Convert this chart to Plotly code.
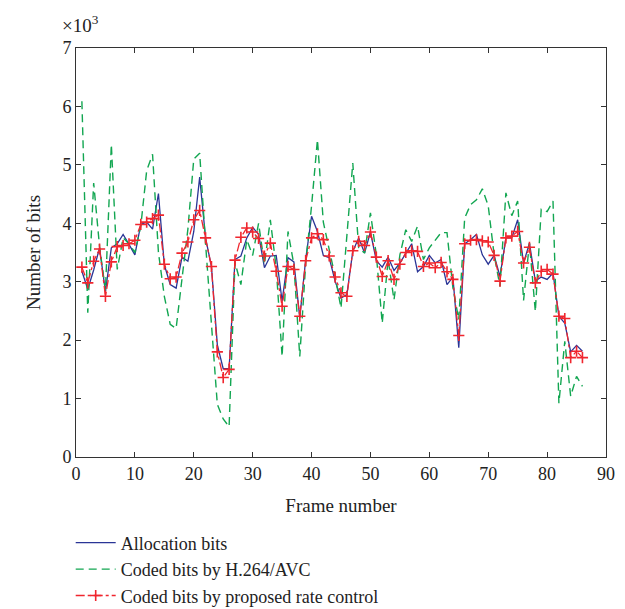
"""Allocation bits vs coded bits per frame (H.264/AVC vs proposed rate control)."""

import plotly.graph_objects as go

frames = list(range(1, 87))

# values in units of 10^3 bits
allocation_bits = [
    3.18, 2.87, 3.20, 3.58, 2.83, 3.58, 3.65, 3.81, 3.64, 3.46,
    3.98, 4.02, 3.90, 4.51, 3.29, 2.95, 2.89, 3.42, 3.35, 3.86,
    4.79, 3.75, 3.26, 1.92, 1.51, 1.51, 3.38, 3.44, 3.75, 3.93,
    3.81, 3.24, 3.44, 3.45, 2.67, 3.41, 3.34, 2.38, 3.38, 4.12,
    3.86, 3.45, 3.41, 3.01, 2.72, 2.78, 3.52, 3.75, 3.49, 3.85,
    3.36, 3.25, 3.42, 3.19, 3.32, 3.49, 3.65, 3.17, 3.26, 3.45,
    3.32, 3.38, 2.95, 3.08, 1.87, 3.65, 3.72, 3.81, 3.46, 3.30,
    3.45, 3.09, 3.75, 3.75, 4.06, 3.32, 3.66, 3.01, 3.08, 3.04,
    3.15, 2.41, 2.29, 1.80, 1.91, 1.81,
]
h264_bits = [
    6.09, 2.47, 4.69, 3.60, 2.85, 5.35, 3.21, 3.75, 3.65, 3.50,
    3.95, 4.90, 5.18, 3.50, 2.75, 2.27, 2.20, 3.00, 3.90, 5.10,
    5.20, 3.65, 2.30, 0.90, 0.65, 0.52, 3.33, 2.95, 3.72, 3.45,
    4.00, 3.30, 4.06, 3.24, 1.72, 3.86, 3.29, 1.72, 3.30, 4.30,
    5.43, 4.02, 3.55, 3.09, 2.55, 3.80, 5.03, 3.58, 3.49, 4.18,
    3.46, 2.29, 3.38, 2.69, 3.46, 3.89, 3.69, 3.95, 3.38, 3.58,
    3.72, 3.84, 3.84, 2.90, 2.35, 4.09, 4.32, 4.40, 4.59, 4.30,
    3.46, 2.92, 4.52, 4.13, 4.38, 2.68, 3.66, 2.49, 4.24, 4.20,
    4.38, 0.92, 1.98, 1.04, 1.38, 1.21,
]
proposed_bits = [
    3.25, 2.98, 3.35, 3.56, 2.75, 3.34, 3.60, 3.62, 3.65, 3.71,
    3.98, 4.02, 4.08, 4.14, 3.30, 3.05, 3.08, 3.49, 3.68, 4.06,
    4.22, 3.75, 3.26, 1.80, 1.36, 1.50, 3.37, 3.76, 3.92, 3.85,
    3.74, 3.44, 3.66, 3.18, 2.58, 3.26, 3.21, 2.41, 3.36, 3.75,
    3.82, 3.72, 3.44, 3.08, 2.81, 2.75, 3.53, 3.69, 3.62, 3.85,
    3.42, 3.09, 3.36, 3.04, 3.30, 3.50, 3.53, 3.52, 3.26, 3.32,
    3.24, 3.33, 3.17, 3.04, 2.08, 3.65, 3.71, 3.72, 3.70, 3.68,
    3.45, 3.01, 3.75, 3.78, 3.86, 3.32, 3.59, 2.98, 3.18, 3.21,
    3.13, 2.41, 2.37, 1.70, 1.81, 1.70,
]

x_ticks = list(range(0, 91, 10))
y_ticks = list(range(0, 8))

FONT = "Liberation Serif, Times New Roman, serif"

fig = go.Figure()
fig.add_trace(
    go.Scatter(
        x=frames,
        y=allocation_bits,
        name="Allocation bits",
        mode="lines",
        line={"color": "#2a3596", "width": 1.3},
    )
)
fig.add_trace(
    go.Scatter(
        x=frames,
        y=h264_bits,
        name="Coded bits by H.264/AVC",
        mode="lines",
        line={"color": "#12a651", "width": 1.4, "dash": "8px,5px"},
    )
)
fig.add_trace(
    go.Scatter(
        x=frames,
        y=proposed_bits,
        name="Coded bits by proposed rate control",
        mode="lines+markers",
        line={"color": "#f0262e", "width": 1.3, "dash": "dashdot"},
        marker={
            "symbol": "cross-thin",
            "size": 8,
            "color": "#f0262e",
            "line": {"color": "#f0262e", "width": 1.6},
        },
    )
)

axis_style = dict(
    showline=True,
    linecolor="#333333",
    linewidth=1,
    mirror="ticks",
    ticks="inside",
    ticklen=5,
    tickcolor="#333333",
    showgrid=False,
    zeroline=False,
    tickfont={"size": 18, "color": "#222222", "family": FONT},
)

fig.update_xaxes(
    range=[0, 90],
    tickvals=x_ticks,
    title={"text": "Frame number", "font": {"size": 19, "family": FONT}, "standoff": 16},
    **axis_style,
)
fig.update_yaxes(
    range=[0, 7],
    tickvals=y_ticks,
    title={"text": "Number of bits", "font": {"size": 19, "family": FONT}, "standoff": 16},
    **axis_style,
)

fig.add_annotation(
    text="×10<sup>3</sup>",
    xref="paper",
    yref="paper",
    x=-0.03,
    y=1.025,
    xanchor="left",
    yanchor="bottom",
    showarrow=False,
    font={"size": 19, "family": FONT, "color": "#222222"},
)

fig.update_layout(
    width=625,
    height=609,
    margin={"l": 68, "r": 27, "t": 40, "b": 160, "autoexpand": False},
    paper_bgcolor="white",
    plot_bgcolor="white",
    font={"family": FONT, "color": "#222222"},
    legend={
        "x": -0.01,
        "y": -0.165,
        "xanchor": "left",
        "yanchor": "top",
        "font": {"size": 18, "family": FONT},
        "tracegroupgap": 0,
        "itemwidth": 40,
        "bgcolor": "rgba(0,0,0,0)",
    },
)

fig.write_html("out.html")
